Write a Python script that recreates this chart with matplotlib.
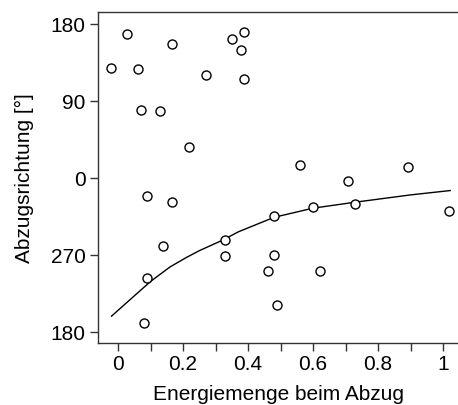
import matplotlib
matplotlib.use("Agg")
import matplotlib.pyplot as plt
from matplotlib.ticker import MultipleLocator

plt.rcParams['font.family'] = ['Liberation Sans', 'DejaVu Sans']

# Energiemenge / Abzugsrichtung (Grad, 180..-180 auf der Achse)
energie = [-0.022, 0.029, 0.061, 0.070, 0.129, 0.167, 0.271, 0.218, 0.350, 0.389,
           0.379, 0.389, 0.559, 0.709, 0.891, 0.089, 0.167, 0.138, 0.089, 0.080,
           0.330, 0.330, 0.480, 0.601, 0.729, 1.019, 0.480, 0.461, 0.620, 0.489]
richtung = [128.6, 168.7, 127.4, 79.5, 78.4, 156.6, 120.4, 36.7, 162.5, 171.0,
            149.6, 115.7, 15.0, -3.0, 13.0, -20.5, -27.6, -79.3, -116.7, -169.3,
            -73.0, -90.7, -44.0, -34.0, -31.0, -38.8, -89.5, -109.0, -109.0, -148.6]

# Regressionskurve
kurve_x = [-0.02, 0.10, 0.16, 0.21, 0.25, 0.32, 0.37, 0.48, 0.60, 0.73, 0.90, 1.022]
kurve_y = [-161.5, -121.0, -104.0, -93.0, -85.0, -73.0, -63.0, -46.0, -35.3, -28.3, -19.8, -14.7]

yticks = [180, 90, 0, -90, -180]
ylabels = ['180', '90', '0', '270', '180']

fig = plt.figure(figsize=(4.58, 4.06), dpi=100)
ax = fig.add_axes([0.214, 0.1527, 0.786, 0.8153])

ax.plot(kurve_x, kurve_y, color='black', lw=1.0)
ax.plot(energie, richtung, 'o', mfc='white', mec='black', ms=6.5, mew=1.0, ls='none')

ax.set_xlim(-0.0615, 1.046)
ax.set_ylim(-192.9, 194)
ax.set_yticks(yticks)
ax.set_yticklabels(ylabels)
ax.set_xticks([0, 0.2, 0.4, 0.6, 0.8, 1.0])
ax.set_xticklabels(['0', '0.2', '0.4', '0.6', '0.8', '1'])
ax.xaxis.set_minor_locator(MultipleLocator(0.1))

ax.spines['right'].set_visible(False)
for s in ['left', 'top', 'bottom']:
    ax.spines[s].set_linewidth(1.0)
    ax.spines[s].set_color('#333333')

ax.tick_params(axis='both', which='major', length=6, width=1.0, labelsize=15, color='#333333')
ax.tick_params(axis='x', which='minor', length=6, width=1.0, color='#333333')
ax.tick_params(axis='x', pad=2)
ax.tick_params(axis='y', pad=3)

ax.set_xlabel('Energiemenge beim Abzug', fontsize=15, labelpad=8)
ax.set_ylabel('Abzugsrichtung [°]', fontsize=15, labelpad=12)

fig.savefig('out.png', dpi=100)
